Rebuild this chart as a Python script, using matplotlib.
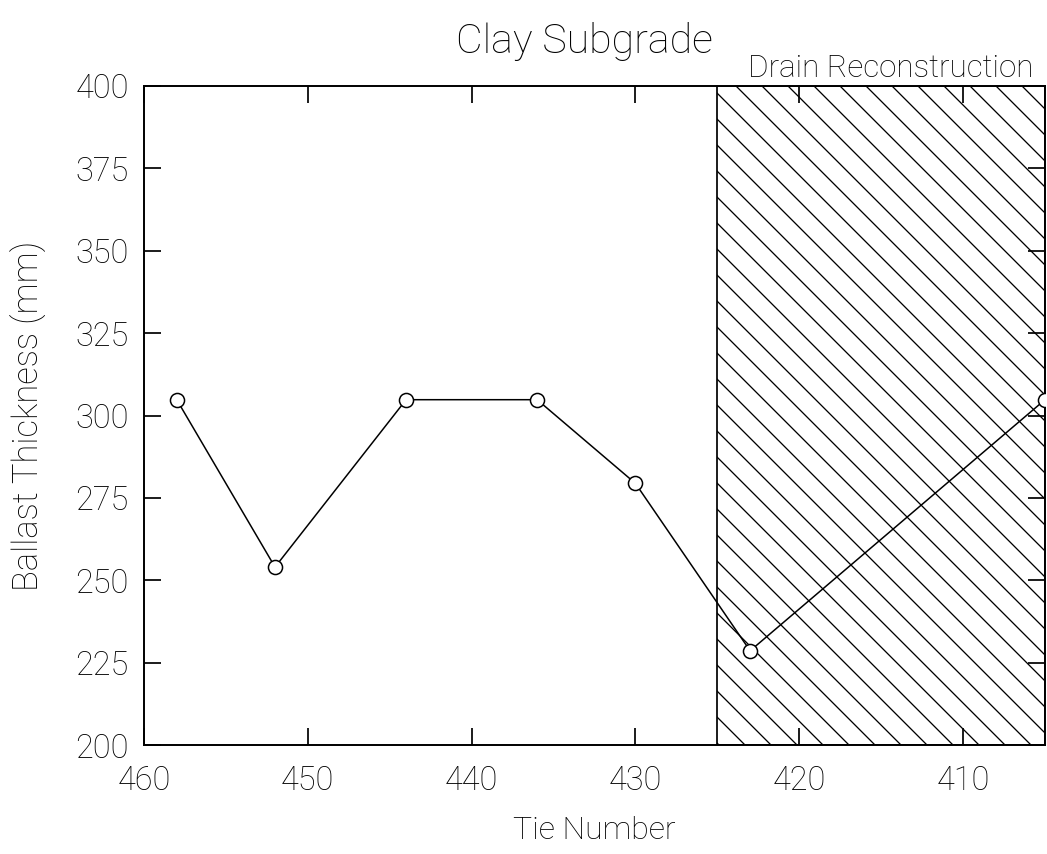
import matplotlib
matplotlib.use("Agg")
import matplotlib.pyplot as plt

# ballast thickness along the track, measured at tie locations
tie_number = [458, 452, 444, 436, 430, 423, 405]
thickness_mm = [304.8, 254.0, 304.8, 304.8, 279.4, 228.6, 304.8]

drain_start, drain_end = 425, 405
x_ticks = [460, 450, 440, 430, 420, 410]
y_ticks = [200, 225, 250, 275, 300, 325, 350, 375, 400]

DPI = 156
plt.rcParams['font.family'] = ['Roboto', 'DejaVu Sans']
plt.rcParams['font.weight'] = 'light'
plt.rcParams['axes.titleweight'] = 'light'
plt.rcParams['axes.labelweight'] = 'light'
plt.rcParams['hatch.linewidth'] = 0.6

fig = plt.figure(figsize=(1047 / DPI, 854 / DPI), dpi=DPI)
ax = fig.add_axes([0.1375, 0.1276, 0.8606, 0.7717])

# drain reconstruction zone
ax.axvspan(drain_start, drain_end, facecolor='none', edgecolor='black',
           hatch='\\\\', linewidth=0.8, zorder=1)

ax.plot(tie_number, thickness_mm, color='black', linewidth=0.7,
        marker='o', markersize=6.5, markerfacecolor='white',
        markeredgecolor='black', markeredgewidth=0.7, zorder=3)

ax.set_xlim(460, 405)
ax.set_ylim(200, 400)
ax.set_xticks(x_ticks)
ax.set_yticks(y_ticks)
ax.tick_params(direction='in', length=8, width=0.8, top=True, right=True,
               labelsize=15, labelcolor='black')
ax.tick_params(axis='x', pad=9)
ax.tick_params(axis='y', pad=7)
for s in ax.spines.values():
    s.set_linewidth(0.9)

ax.set_title('Clay Subgrade', fontsize=19, pad=15, x=0.489, color='black')
ax.text(0.987, 1.0137, 'Drain Reconstruction', transform=ax.transAxes,
        ha='right', va='baseline', fontsize=14.5, color='black')
ax.set_xlabel('Tie Number', fontsize=14.8)
ax.set_ylabel('Ballast Thickness (mm)', fontsize=16)
ax.xaxis.set_label_coords(0.5, -0.107)
ax.yaxis.set_label_coords(-0.108, 0.5)

fig.savefig('out.png', dpi=DPI)
